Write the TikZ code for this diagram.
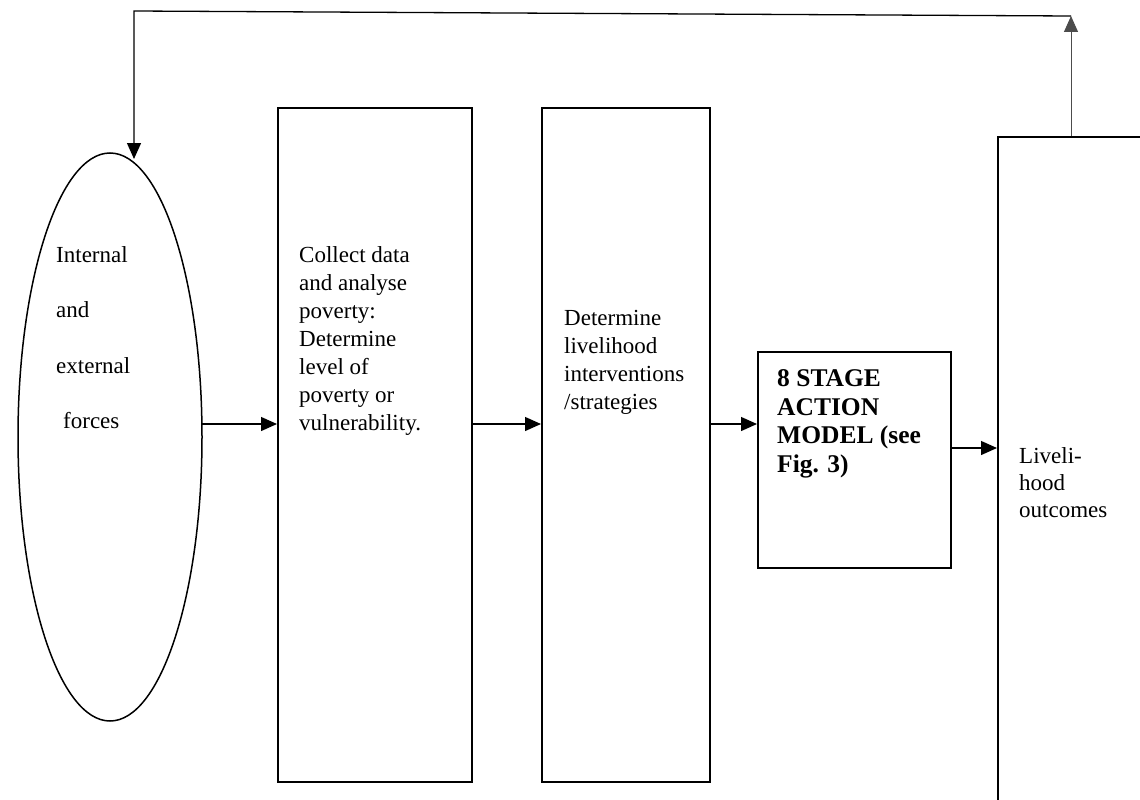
\documentclass[tikz,border=0pt]{standalone}
\usepackage{fontspec}
\setmainfont{Liberation Serif}
\usetikzlibrary{arrows.meta}
\begin{document}
\begin{tikzpicture}[x=1pt,y=-1pt,
  boxline/.style={draw=black,line width=1.8pt},
  flow/.style={draw=black,line width=1.3pt,-{Triangle[length=16pt,width=14pt]}},
  feedback/.style={draw=black!70,line width=1pt,-{Triangle[length=16pt,width=14pt]}},
  label/.style={inner sep=0pt,anchor=north west,align=left,
    font=\fontsize{23}{28}\selectfont},
  boldlabel/.style={inner sep=0pt,anchor=north west,align=left,
    font=\fontsize{25.5}{28.5}\selectfont\bfseries},
]
  % page frame
  \useasboundingbox (0,0) rectangle (1140,800);
  \clip (0,0) rectangle (1140,800);

  % shapes
  \draw[draw=black,line width=1.5pt] (110,437) ellipse [x radius=92, y radius=284];
  \coordinate (forcesE) at (202,424);
  \coordinate (forcesTop) at (134,159);
  \node[boxline,minimum width=194pt,minimum height=674pt,anchor=north west,inner sep=0pt]
    (collect) at (277,107) {};
  \node[boxline,minimum width=168pt,minimum height=674pt,anchor=north west,inner sep=0pt]
    (strategies) at (541,107) {};
  \node[boxline,minimum width=193pt,minimum height=216pt,anchor=north west,inner sep=0pt]
    (model) at (757,351) {};
  \node[boxline,minimum width=300pt,minimum height=800pt,anchor=north west,inner sep=0pt]
    (outcomes) at (997,136) {};

  % texts
  \node[label,font=\fontsize{23}{55.5}\selectfont] (forcesText) at (56,246)
    {Internal\\and\\external\\\hspace*{7pt}forces};
  \node[label] (collectText) at (299,246)
    {Collect data\\and analyse\\poverty:\\Determine\\level of\\poverty or\\vulnerability.};
  \node[label] (strategiesText) at (564,310)
    {Determine\\livelihood\\interventions\\/strategies};
  \node[boldlabel] (modelText) at (777,369.5)
    {8 STAGE\\ACTION\\MODEL (see\\Fig. 3)};
  \node[label,font=\fontsize{23}{27}\selectfont] (outcomesText) at (1019,447)
    {Liveli-\\hood\\outcomes};

  % connectors
  \draw[flow] (forcesE) -- (collect.west |- forcesE);
  \draw[flow] (collect.east |- forcesE) -- (strategies.west |- forcesE);
  \draw[flow] (strategies.east |- forcesE) -- (model.west |- forcesE);
  \coordinate (modelOut) at (950,448);
  \draw[flow] (model.east |- modelOut) -- (outcomes.west |- modelOut);

  % feedback loop over the top
  \coordinate (loopR) at (1071,16);
  \coordinate (loopL) at (134,11);
  \draw[feedback] (outcomes.north -| loopR) -- (loopR);
  \draw[flow] (loopR) -- (loopL) -- (forcesTop);
\end{tikzpicture}
\end{document}
